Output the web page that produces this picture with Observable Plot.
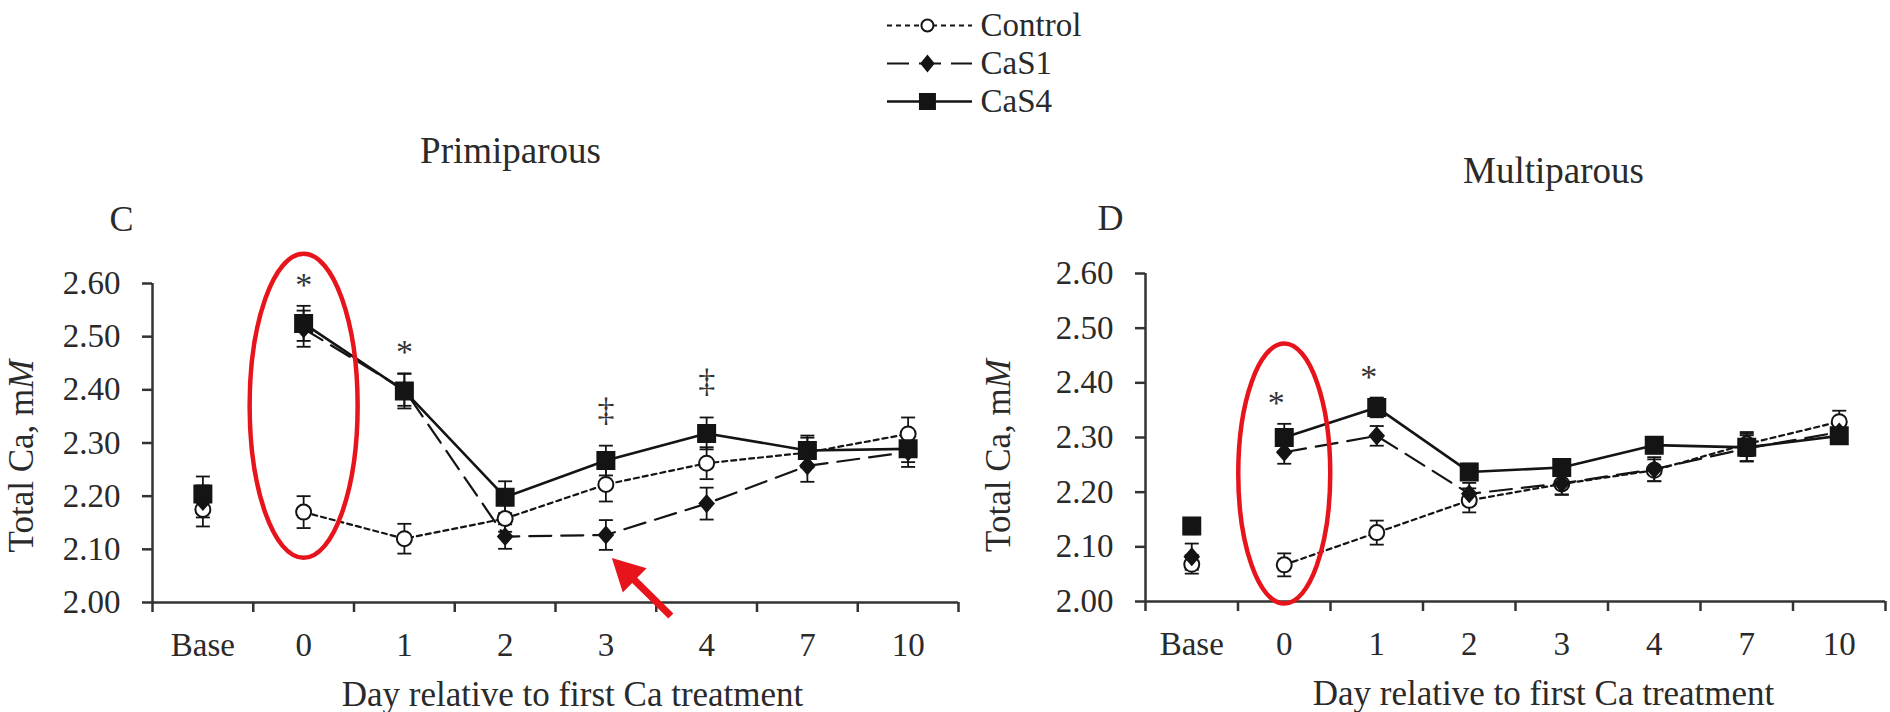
<!DOCTYPE html>
<html>
<head>
<meta charset="utf-8">
<script src="https://cdn.jsdelivr.net/npm/d3@7"></script>
<script src="https://cdn.jsdelivr.net/npm/@observablehq/plot@0.6"></script>
<style>
  html, body { margin: 0; padding: 0; background: #fff; }
  #fig { position: relative; width: 1890px; height: 712px; overflow: hidden; background: #fff;
         font-family: "Liberation Serif", "Times New Roman", serif; }
  #fig > svg { position: absolute; top: 0; }
</style>
</head>
<body>
<div id="fig"></div>
<script>
// Sampling days and treatment groups
const days = ["Base", "0", "1", "2", "3", "4", "7", "10"];
const series = ["Control", "CaS1", "CaS4"];
const yTicks = [2.0, 2.1, 2.2, 2.3, 2.4, 2.5, 2.6];

// Primiparous: total Ca (mM), mean and SE per day
const primiControl   = [2.175, 2.170, 2.120, 2.158, 2.222, 2.262, 2.282, 2.317];
const primiCaS1      = [2.190, 2.515, 2.400, 2.124, 2.127, 2.186, 2.257, 2.283];
const primiCaS4      = [2.204, 2.525, 2.398, 2.198, 2.267, 2.318, 2.286, 2.289];
const primiControlSE = [0.032, 0.030, 0.028, 0.025, 0.032, 0.030, 0.028, 0.031];
const primiCaS1SE    = [0.030, 0.034, 0.030, 0.023, 0.028, 0.030, 0.030, 0.028];
const primiCaS4SE    = [0.033, 0.033, 0.033, 0.030, 0.028, 0.030, 0.028, 0.025];

// Multiparous: total Ca (mM), mean and SE per day
const multiControl   = [2.068, 2.067, 2.126, 2.185, 2.215, 2.240, 2.288, 2.329];
const multiCaS1      = [2.082, 2.273, 2.303, 2.197, 2.216, 2.242, 2.280, 2.310];
const multiCaS4      = [2.138, 2.300, 2.355, 2.237, 2.245, 2.286, 2.282, 2.303];
const multiControlSE = [0.017, 0.021, 0.022, 0.022, 0.020, 0.020, 0.022, 0.020];
const multiCaS1SE    = [0.024, 0.021, 0.018, 0.020, 0.020, 0.022, 0.024, 0.020];
const multiCaS4SE    = [0.015, 0.025, 0.018, 0.015, 0.015, 0.015, 0.025, 0.015];

// Significance marks: * treatment effect, ‡ CaS4 vs CaS1
const primiStar   = ["0", "1"];
const primiDagger = ["3", "4"];
const multiStar   = ["0", "1"];

// Highlights: ring around day 0, arrow at CaS1 day 3
const primiRing  = [{day: "0", center: 2.37}];
const multiRing  = [{day: "0", center: 2.234}];
const primiArrow = [{day: "3", series: "CaS1"}];

const INK = "#141414";
const RED = "#e8141c";

// ---- marker shapes ----
const squareSym  = {draw(c) { const h = 8.5; c.moveTo(-h, -h); c.lineTo(h, -h); c.lineTo(h, h); c.lineTo(-h, h); c.closePath(); }};
const diamondSym = {draw(c) { c.moveTo(0, -8); c.lineTo(7, 0); c.lineTo(0, 8); c.lineTo(-7, 0); c.closePath(); }};
const circleSym  = {draw(c) { c.moveTo(7.5, 0); c.arc(0, 0, 7.5, 0, 2 * Math.PI); c.closePath(); }};
const capSym     = {draw(c) { c.moveTo(-7, 0); c.lineTo(7, 0); }};
// smaller versions for the key
const keySquare  = {draw(c) { const h = 7.5; c.moveTo(-h, -h); c.lineTo(h, -h); c.lineTo(h, h); c.lineTo(-h, h); c.closePath(); }};
const keyDiamond = {draw(c) { c.moveTo(0, -7.5); c.lineTo(6, 0); c.lineTo(0, 7.5); c.lineTo(-6, 0); c.closePath(); }};
const keyCircle  = {draw(c) { c.moveTo(6, 0); c.arc(0, 0, 6, 0, 2 * Math.PI); c.closePath(); }};
function ellipseSym(rx, ry) {
  const k = 0.5523;
  return {draw(c) {
    c.moveTo(rx, 0);
    c.bezierCurveTo(rx, ry * k, rx * k, ry, 0, ry);
    c.bezierCurveTo(-rx * k, ry, -rx, ry * k, -rx, 0);
    c.bezierCurveTo(-rx, -ry * k, -rx * k, -ry, 0, -ry);
    c.bezierCurveTo(rx * k, -ry, rx, -ry * k, rx, 0);
    c.closePath();
  }};
}
function arrowSym(tip, tail, headLen, headHalf, shaftHalf) {
  return {draw(c) {
    const [tx, ty] = tip, [ex, ey] = tail;
    const L = Math.hypot(ex - tx, ey - ty), ux = (ex - tx) / L, uy = (ey - ty) / L, nx = -uy, ny = ux;
    const bx = tx + ux * headLen, by = ty + uy * headLen;
    c.moveTo(tx, ty);
    c.lineTo(bx + nx * headHalf, by + ny * headHalf);
    c.lineTo(bx + nx * shaftHalf, by + ny * shaftHalf);
    c.lineTo(ex + nx * shaftHalf, ey + ny * shaftHalf);
    c.lineTo(ex - nx * shaftHalf, ey - ny * shaftHalf);
    c.lineTo(bx - nx * shaftHalf, by - ny * shaftHalf);
    c.lineTo(bx - nx * headHalf, by - ny * headHalf);
    c.closePath();
  }};
}

const styleFor = {
  Control: {dash: "5,4", width: 2.2, symbol: circleSym, key: keyCircle, fill: "#fff"},
  CaS1:    {dash: "22,10", width: 2.2, symbol: diamondSym, key: keyDiamond, fill: INK},
  CaS4:    {dash: null, width: 2.6, symbol: squareSym, key: keySquare, fill: INK}
};

function buildRows(means, ses) {
  return series.flatMap((s, k) => days.map((d, i) => ({series: s, day: d, i, mean: means[k][i], se: ses[k][i]})));
}
const xPos = d => d.i + 0.5;
const dayPos = d => days.indexOf(d.day) + 0.5;

function panel(cfg) {
  const rows = cfg.rows;
  const top = day => d3.max(rows.filter(r => r.day === day), r => r.mean + r.se);
  const sigRows = list => list.map(day => ({day, top: top(day)}));
  const caps = rows.flatMap(r => [{...r, v: r.mean - r.se}, {...r, v: r.mean + r.se}]);

  const marks = [
    Plot.axisY({ticks: yTicks, tickFormat: d3.format(".2f"), tickSize: 10, tickPadding: 22,
                strokeWidth: 2.5, stroke: "#333", fontSize: 33, label: null}),
    Plot.axisX({ticks: d3.range(days.length + 1), tickFormat: () => "", tickSize: 10,
                strokeWidth: 2.5, stroke: "#333", label: null}),
    Plot.axisX({ticks: days.map((d, i) => i + 0.5), tickFormat: v => days[Math.round(v - 0.5)],
                tickSize: 0, tickPadding: 30, fontSize: 33, label: null}),
    Plot.ruleY([2.0], {stroke: "#333", strokeWidth: 2.5}),
    Plot.ruleX([0], {stroke: "#333", strokeWidth: 2.5})
  ];
  // connecting lines (baseline sample stands alone)
  for (const s of series) {
    const st = styleFor[s];
    marks.push(Plot.line(rows.filter(r => r.series === s && r.day !== "Base"),
      {x: xPos, y: "mean", stroke: INK, strokeWidth: st.width, strokeDasharray: st.dash}));
  }
  // SE bars
  marks.push(Plot.ruleX(rows, {x: xPos, y1: r => r.mean - r.se, y2: r => r.mean + r.se, stroke: INK, strokeWidth: 1.8}));
  marks.push(Plot.dot(caps, {x: xPos, y: "v", symbol: capSym, stroke: INK, strokeWidth: 1.8, fill: "none"}));
  // group markers
  for (const s of series) {
    const st = styleFor[s];
    marks.push(Plot.dot(rows.filter(r => r.series === s),
      {x: xPos, y: "mean", symbol: st.symbol, fill: st.fill, stroke: INK, strokeWidth: 2}));
  }
  // significance symbols
  marks.push(Plot.text(sigRows(cfg.star), {x: dayPos, y: "top", text: () => "*", lineAnchor: "bottom",
    dy: -10, dx: cfg.sigDx, fontSize: 34, fill: "#333"}));
  if (cfg.dagger) marks.push(Plot.text(sigRows(cfg.dagger), {x: dayPos, y: "top", text: () => "‡",
    lineAnchor: "bottom", dy: -25, dx: cfg.sigDx, fontSize: 34, fill: "#333"}));
  // titles and axis labels
  marks.push(Plot.text([cfg.title], {frameAnchor: "top", text: d => d, lineAnchor: "bottom",
    dx: cfg.titleDx, dy: cfg.titleDy, fontSize: 37, fill: "#2a2a2a"}));
  marks.push(Plot.text([cfg.letter], {frameAnchor: "top-left", text: d => d, lineAnchor: "bottom",
    textAnchor: "middle", dx: cfg.letterDx, dy: cfg.letterDy, fontSize: 36, fill: "#2a2a2a"}));
  marks.push(Plot.text(["Day relative to first Ca treatment"], {frameAnchor: "bottom", text: d => d,
    lineAnchor: "bottom", dx: cfg.xLabelDx, dy: 103, fontSize: 35, fill: "#2a2a2a"}));
  marks.push(Plot.text(["Total Ca, mM"], {frameAnchor: "left", text: d => d, rotate: -90,
    lineAnchor: "bottom", textAnchor: "middle", dx: cfg.yLabelDx, dy: cfg.yLabelDy, fontSize: 35, fill: "#2a2a2a"}));
  // highlights
  marks.push(Plot.dot(cfg.ring, {x: dayPos, y: "center", symbol: ellipseSym(cfg.ringRx, cfg.ringRy),
    stroke: RED, strokeWidth: 4.5, fill: "none"}));
  if (cfg.arrow) {
    const targets = cfg.arrow.map(a => rows.find(r => r.day === a.day && r.series === a.series));
    marks.push(Plot.dot(targets, {x: xPos, y: "mean", symbol: arrowSym([6, 23], [65, 81], 32, 17, 3.6),
      fill: RED, stroke: "none"}));
  }

  const svg = Plot.plot({
    width: cfg.width, height: 712,
    marginLeft: cfg.marginLeft, marginRight: cfg.marginRight,
    marginTop: cfg.marginTop, marginBottom: cfg.marginBottom,
    x: {type: "linear", domain: [0, days.length]},
    y: {domain: [2.0, 2.6]},
    style: {fontFamily: '"Liberation Serif", "Times New Roman", serif', fontSize: "33px",
            color: "#2a2a2a", background: "transparent", overflow: "visible"},
    marks
  });
  d3.select(svg).selectAll("text").filter(function () { return this.textContent === "Total Ca, mM"; })
    .each(function () {
      const t = d3.select(this);
      t.text("Total Ca, m");
      t.append("tspan").attr("font-style", "italic").text("M");
    });
  svg.style.left = cfg.left + "px";
  return svg;
}

const fig = document.getElementById("fig");

fig.appendChild(panel({
  rows: buildRows([primiControl, primiCaS1, primiCaS4], [primiControlSE, primiCaS1SE, primiCaS4SE]),
  left: 0, width: 1000, marginLeft: 152, marginRight: 42, marginTop: 283, marginBottom: 110,
  title: "Primiparous", titleDx: -45, titleDy: -121,
  letter: "C", letterDx: -31, letterDy: -53,
  xLabelDx: 17, yLabelDx: -120, yLabelDy: 13,
  star: primiStar, dagger: primiDagger, sigDx: 0,
  ring: primiRing, ringRx: 54, ringRy: 152,
  arrow: primiArrow
}));

fig.appendChild(panel({
  rows: buildRows([multiControl, multiCaS1, multiCaS4], [multiControlSE, multiCaS1SE, multiCaS4SE]),
  left: 1000, width: 890, marginLeft: 145, marginRight: 5, marginTop: 273, marginBottom: 111,
  title: "Multiparous", titleDx: 38, titleDy: -91,
  letter: "D", letterDx: -35, letterDy: -44,
  xLabelDx: 28, yLabelDx: -136, yLabelDy: 18,
  star: multiStar, dagger: null, sigDx: -8,
  ring: multiRing, ringRx: 46, ringRy: 130,
  arrow: null
}));

// Legend: line style + marker per group
const legend = Plot.plot({
  width: 260, height: 125, marginLeft: 47, marginRight: 128, marginTop: 24, marginBottom: 24,
  x: {domain: [0, 1], axis: null},
  y: {type: "point", domain: series, padding: 0, axis: null},
  style: {fontFamily: '"Liberation Serif", "Times New Roman", serif', fontSize: "33px",
          color: "#2a2a2a", background: "transparent", overflow: "visible"},
  marks: [
    ...series.map(s => Plot.ruleY([s], {y: d => d, x1: () => 0, x2: () => 1, stroke: INK,
      strokeWidth: styleFor[s].width, strokeDasharray: styleFor[s].dash})),
    ...series.map(s => Plot.dot([s], {y: d => d, x: () => 0.47, symbol: styleFor[s].key,
      fill: styleFor[s].fill, stroke: INK, strokeWidth: 2})),
    Plot.text(series, {y: d => d, x: () => 1, text: d => d, dx: 8, textAnchor: "start", fontSize: 33, fill: "#2a2a2a"})
  ]
});
legend.style.left = "840px";
fig.appendChild(legend);
</script>
</body>
</html>
